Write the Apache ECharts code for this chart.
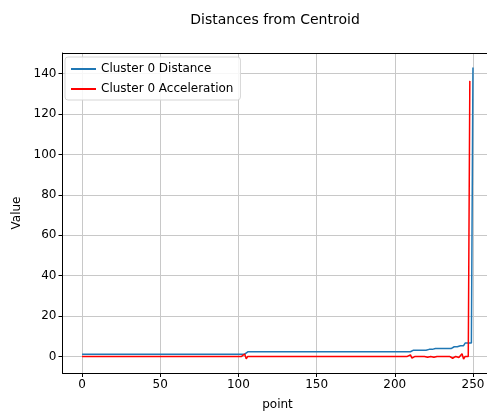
<!DOCTYPE html>
<html>
<head>
<meta charset="utf-8">
<script src="https://cdn.jsdelivr.net/npm/echarts@6/dist/echarts.min.js"></script>
<style>
    html, body {margin: 0; padding: 0; background: #fff;}
    #chart {width: 487px; height: 414px;}
</style>
</head>
<body>
<div id="chart"></div>
<script>
// sorted distances as [level, number of points]
const distanceRuns = [
    [1.1, 106], [2.3, 106], [3.1, 10], [3.5, 4], [3.9, 12],
    [4.8, 4], [5.3, 3], [6.6, 5], [143, 1]
];
// acceleration is zero except at these [point, value] spikes
const accelerationLength = 249;
const accelerationSpikes = [
    [104, 1.2], [105, -1.2], [210, 0.8], [211, -0.8], [220, 0.4], [221, -0.4],
    [224, 0.4], [225, -0.4], [236, 0.9], [237, -0.9], [240, 0.5], [241, -0.5],
    [243, 1.3], [244, -1.3], [248, 136.4]
];
const xTicks = [0, 50, 100, 150, 200, 250];
const yTicks = [0, 20, 40, 60, 80, 100, 120, 140];

const distance = [];
distanceRuns.forEach(([v, n]) => {
    for (let k = 0; k < n; k++) distance.push([distance.length, v]);
});
const acceleration = [];
for (let i = 0; i < accelerationLength; i++) acceleration.push([i, 0]);
accelerationSpikes.forEach(([i, v]) => { acceleration[i][1] = v; });

const font = 'DejaVu Sans';
const spine = {show: true, onZero: false, lineStyle: {color: '#000', width: 1}};
const chart = echarts.init(document.getElementById('chart'));
chart.setOption({
    animation: false,
    textStyle: {fontFamily: font},
    title: {
        text: 'Distances from Centroid',
        left: 270, top: 8, textAlign: 'center',
        textStyle: {fontFamily: font, fontSize: 14, fontWeight: 'normal', color: '#000'}
    },
    grid: {
        left: 62.5, top: 53, width: 430, height: 320,
        outerBoundsMode: 'none', containLabel: false
    },
    legend: {
        orient: 'vertical',
        left: 65, top: 57,
        icon: 'rect',
        itemWidth: 25, itemHeight: 2, itemGap: 8,
        padding: [6, 7, 5, 6],
        backgroundColor: 'rgba(255,255,255,0.85)',
        borderColor: '#d6d6d6', borderWidth: 1, borderRadius: 3,
        textStyle: {fontFamily: font, fontSize: 12, color: '#000'},
        data: ['Cluster 0 Distance', 'Cluster 0 Acceleration']
    },
    xAxis: [{
        type: 'value', min: -12.5, max: 262.5, position: 'bottom',
        name: 'point', nameLocation: 'middle', nameGap: 26,
        nameTextStyle: {fontFamily: font, fontSize: 12, color: '#000'},
        axisLine: spine,
        axisTick: {show: true, inside: false, length: 4, customValues: xTicks, lineStyle: {color: '#000'}},
        axisLabel: {customValues: xTicks, fontFamily: font, fontSize: 12, color: '#000', margin: 6},
        splitLine: {show: true, lineStyle: {color: '#c8c8c8', width: 1}}
    }, {
        // top spine only
        type: 'value', min: -12.5, max: 262.5, position: 'top',
        axisLine: spine, axisTick: {show: false}, axisLabel: {show: false}, splitLine: {show: false}
    }],
    yAxis: {
        type: 'value', min: -8.2, max: 150.2, position: 'left',
        name: 'Value', nameLocation: 'middle', nameGap: 40, nameRotate: 90,
        nameTextStyle: {fontFamily: font, fontSize: 12, color: '#000'},
        axisLine: spine,
        axisTick: {show: true, inside: false, length: 4, customValues: yTicks, lineStyle: {color: '#000'}},
        axisLabel: {customValues: yTicks, fontFamily: font, fontSize: 12, color: '#000', margin: 6},
        splitLine: {show: true, lineStyle: {color: '#c8c8c8', width: 1}}
    },
    series: [
        {
            name: 'Cluster 0 Distance', type: 'line', data: distance,
            symbol: 'none', color: '#1f77b4', lineStyle: {width: 1.5, color: '#1f77b4'}
        },
        {
            name: 'Cluster 0 Acceleration', type: 'line', data: acceleration,
            symbol: 'none', color: '#ff0000', lineStyle: {width: 1.5, color: '#ff0000'}
        }
    ]
});
</script>
</body>
</html>
